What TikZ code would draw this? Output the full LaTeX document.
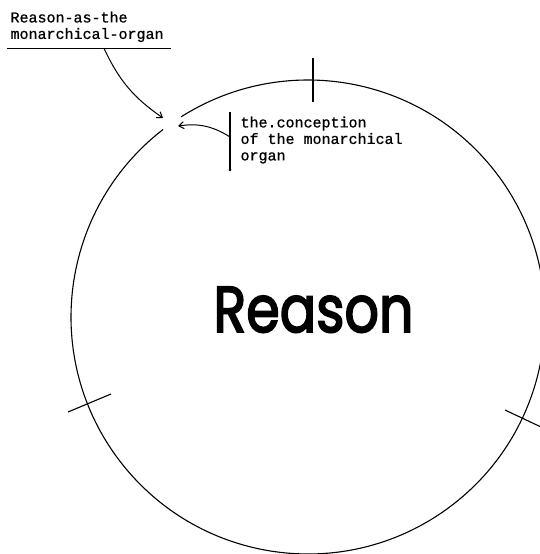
\documentclass[tikz,border=0pt]{standalone}
\usepackage{fontspec}
\setmonofont{Liberation Mono}[FakeBold=0.8]
\newfontfamily\bigfont{Poppins}[FakeBold=3]
\usetikzlibrary{arrows.meta,positioning,calc}
\tikzset{
  note/.style={font=\ttfamily\fontsize{15}{16.5}\selectfont, align=left, inner sep=0pt},
  pointer/.style={draw, line width=1pt, -{Straight Barb[length=5pt,width=7pt]}},
  crossmark/.style={draw, line width=1.1pt},
}

\begin{document}
\begin{tikzpicture}[x=1pt, y=1pt, line width=1.1pt]
\useasboundingbox (0,0) rectangle (540,554);

% the big circle, left open where the two arrows meet
\draw (308,237) ++(127.7:237) arc[start angle=127.7, end angle=482.4, radius=237];

% marks across the circle
\draw[crossmark] (313,496) -- (313,452);
\draw[crossmark] (68,142) -- (111,160);
\draw[crossmark] (505,144) -- (541,127);

% word in the middle
\node[font=\bigfont\fontsize{54}{54}\selectfont, anchor=base, inner sep=0pt] (word) at (313.5,222)
    {\scalebox{1}[1.2]{Reason}};

% label top left, underlined
\node[note, anchor=north west] (lbl) at (10,543) {Reason-as-the\\monarchical-organ};
\draw ([xshift=-3pt,yshift=-6pt]lbl.south west) -- ([xshift=7pt,yshift=-6pt]lbl.south east);

% the two tips at the gap
\coordinate (tipA) at (163,436);
\coordinate (tipB) at (178,428);
\draw[pointer] ([xshift=17pt,yshift=-6pt]lbl.south) to[bend right=15] (tipA);

% text right of the gap, with its bar
\node[note, anchor=north west] (conc) at (240,438) {the.conception\\of the monarchical\\organ};
\coordinate (bartop) at (230,442);
\coordinate (barbot) at (230,384);
\draw (bartop) -- (barbot);
\fill (barbot) circle (1.5);
\draw[pointer] ($(bartop)!0.43!(barbot)$) to[bend right=20] (tipB);

\end{tikzpicture}
\end{document}
